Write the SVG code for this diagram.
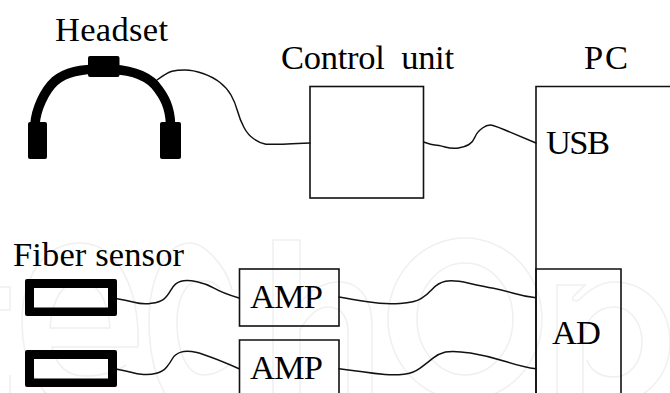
<svg xmlns="http://www.w3.org/2000/svg" width="670" height="393" viewBox="0 0 670 393">
<style>
text{font-family:"Liberation Serif","Times New Roman",serif;font-size:34.5px;fill:#000;white-space:pre}
.box{fill:none;stroke:#111;stroke-width:1.6}
.wire{fill:none;stroke:#111;stroke-width:1.5;stroke-linejoin:round;stroke-linecap:round}
.wm{fill:none;stroke:#f0f0f0;stroke-width:1.6}
.solid{fill:#000}
.sensor{fill:#000;fill-rule:evenodd}
</style>
<rect width="670" height="393" fill="#fff"/>
<g id="watermark" class="wm">
<path d="M0 287H10V310H0M10 393V375"/>
<path d="M138 347H52C56 366 68 376 84 376C102 376 116 372 126 365M138 347C140 290 118 243 80 243C42 243 22 280 22 322C22 365 40 393 60 405M50 328H110C108 298 96 281 80 281C64 281 52 298 50 328Z"/>
<path d="M232 290C226 265 204 243 190 243C166 243 149 278 149 322C149 362 160 393 175 405M220 289C214 280 206 281 200 281C186 281 177 298 177 322C177 350 186 375 204 375C214 375 224 370 232 362"/>
<path d="M273 393V240H300V303C312 288 326 282 340 282C360 282 372 300 372 325V393M300 393V330C308 316 318 307 328 307C342 307 348 318 348 332V393"/>
<ellipse cx="465" cy="319" rx="77" ry="81"/>
<ellipse cx="465" cy="319" rx="48" ry="56"/>
<path d="M557 393V285H585L573 297C571 300 576 303 580 299C590 289 602 282 614 282C646 282 670 308 670 342C670 376 646 402 614 402M583 393V342C583 322 596 307 614 307C630 307 642 322 642 342C642 362 630 377 614 377C600 377 590 370 587 360"/>
</g>
<g id="connectors" class="wire">
<path d="M157 80Q167 72.500 172 71.200Q177 70 185 70Q193 70 203 73.500Q213 77 220 82.500Q227 88 231 95Q235 102 237.500 111Q240 120 244 127.500Q248 135 254 139Q260 143 265 144Q270 145 310 143"/>
<path d="M423.500 142Q432 145 435 145Q438 145 445 147Q452 149 458.500 148Q465 147 469 144.500Q473 142 475 137Q477 132 482.500 128Q488 124 493 125.500Q498 127 505 130Q512 133 536 143"/>
<path d="M117 298.700Q125 300 134 302.300Q143 304.700 151.500 303.300Q160 302 163.500 299.300Q167 296.700 171 289.800Q175 283 181 281.300Q187 279.700 197 281.800Q207 284 214.500 288.300Q222 292.700 239 298"/>
<path d="M117 369.300Q125 370.700 131 372.300Q137 374 143.500 374.500Q150 375 156.500 373.300Q163 371.700 166.500 367.300Q170 363 172.500 358.500Q175 354 181 352.100Q187 350.300 197 352.600Q207 355 239 368.700"/>
<path d="M339 297Q350 299 367.500 301.800Q385 304.700 400 303.500Q415 302.300 421 298.600Q427 295 432.500 289Q438 283 445.500 281.300Q453 279.700 469 283.200Q485 286.700 493.500 288.300Q502 290 513.500 293.300Q525 296.700 536 297.700"/>
<path d="M339 368.700Q350 370 362.500 371.800Q375 373.700 385 374.500Q395 375.300 404 374.300Q413 373.300 420.500 367.800Q428 362.300 433 358.100Q438 354 445.500 352.100Q453 350.300 470.500 353.100Q488 356 506.500 361.800Q525 367.700 536 368.700"/>
</g>
<g id="headset">
<path d="M35 124C36 110 44 91 55 81C66 72 80 69 103 69C126 69 144 73 155 85C165 97 170 108 170.500 124" fill="none" stroke="#000" stroke-width="9.500"/>
<rect class="solid" x="28" y="122" width="19" height="37" rx="2"/>
<rect class="solid" x="160" y="122" width="21" height="37" rx="2"/>
<rect class="solid" x="88" y="56" width="31.500" height="21" rx="2"/>
<text x="55" y="41" textLength="113">Headset</text>
</g>
<g id="control-unit">
<rect class="box" x="310" y="86.500" width="113.500" height="111.500"/>
<text x="281" y="69" textLength="173">Control  unit</text>
</g>
<g id="pc">
<path class="box" d="M536 393V86.500H670"/>
<text x="584" y="69" textLength="44">PC</text>
<text x="546" y="154" textLength="64">USB</text>
</g>
<g id="ad">
<path class="box" d="M536 393V269H621V393"/>
<text x="552" y="344" textLength="49">AD</text>
</g>
<g id="amp-1">
<rect class="box" x="239.500" y="269" width="99.500" height="57"/>
<text x="250" y="308" textLength="73">AMP</text>
</g>
<g id="amp-2">
<path class="box" d="M239.500 393V340H339V393"/>
<text x="250" y="379" textLength="73">AMP</text>
</g>
<g id="fiber-sensor">
<text x="13" y="265.500" textLength="171">Fiber sensor</text>
<path class="sensor" d="M27 279H115Q117 279 117 281V314Q117 316 115 316H27Q25 316 25 314V281Q25 279 27 279ZM34 288V307.500H108V288Z"/>
<path class="sensor" d="M27 350H115Q117 350 117 352V385Q117 387 115 387H27Q25 387 25 385V352Q25 350 27 350ZM34 359V378.500H108V359Z"/>
</g>
</svg>
